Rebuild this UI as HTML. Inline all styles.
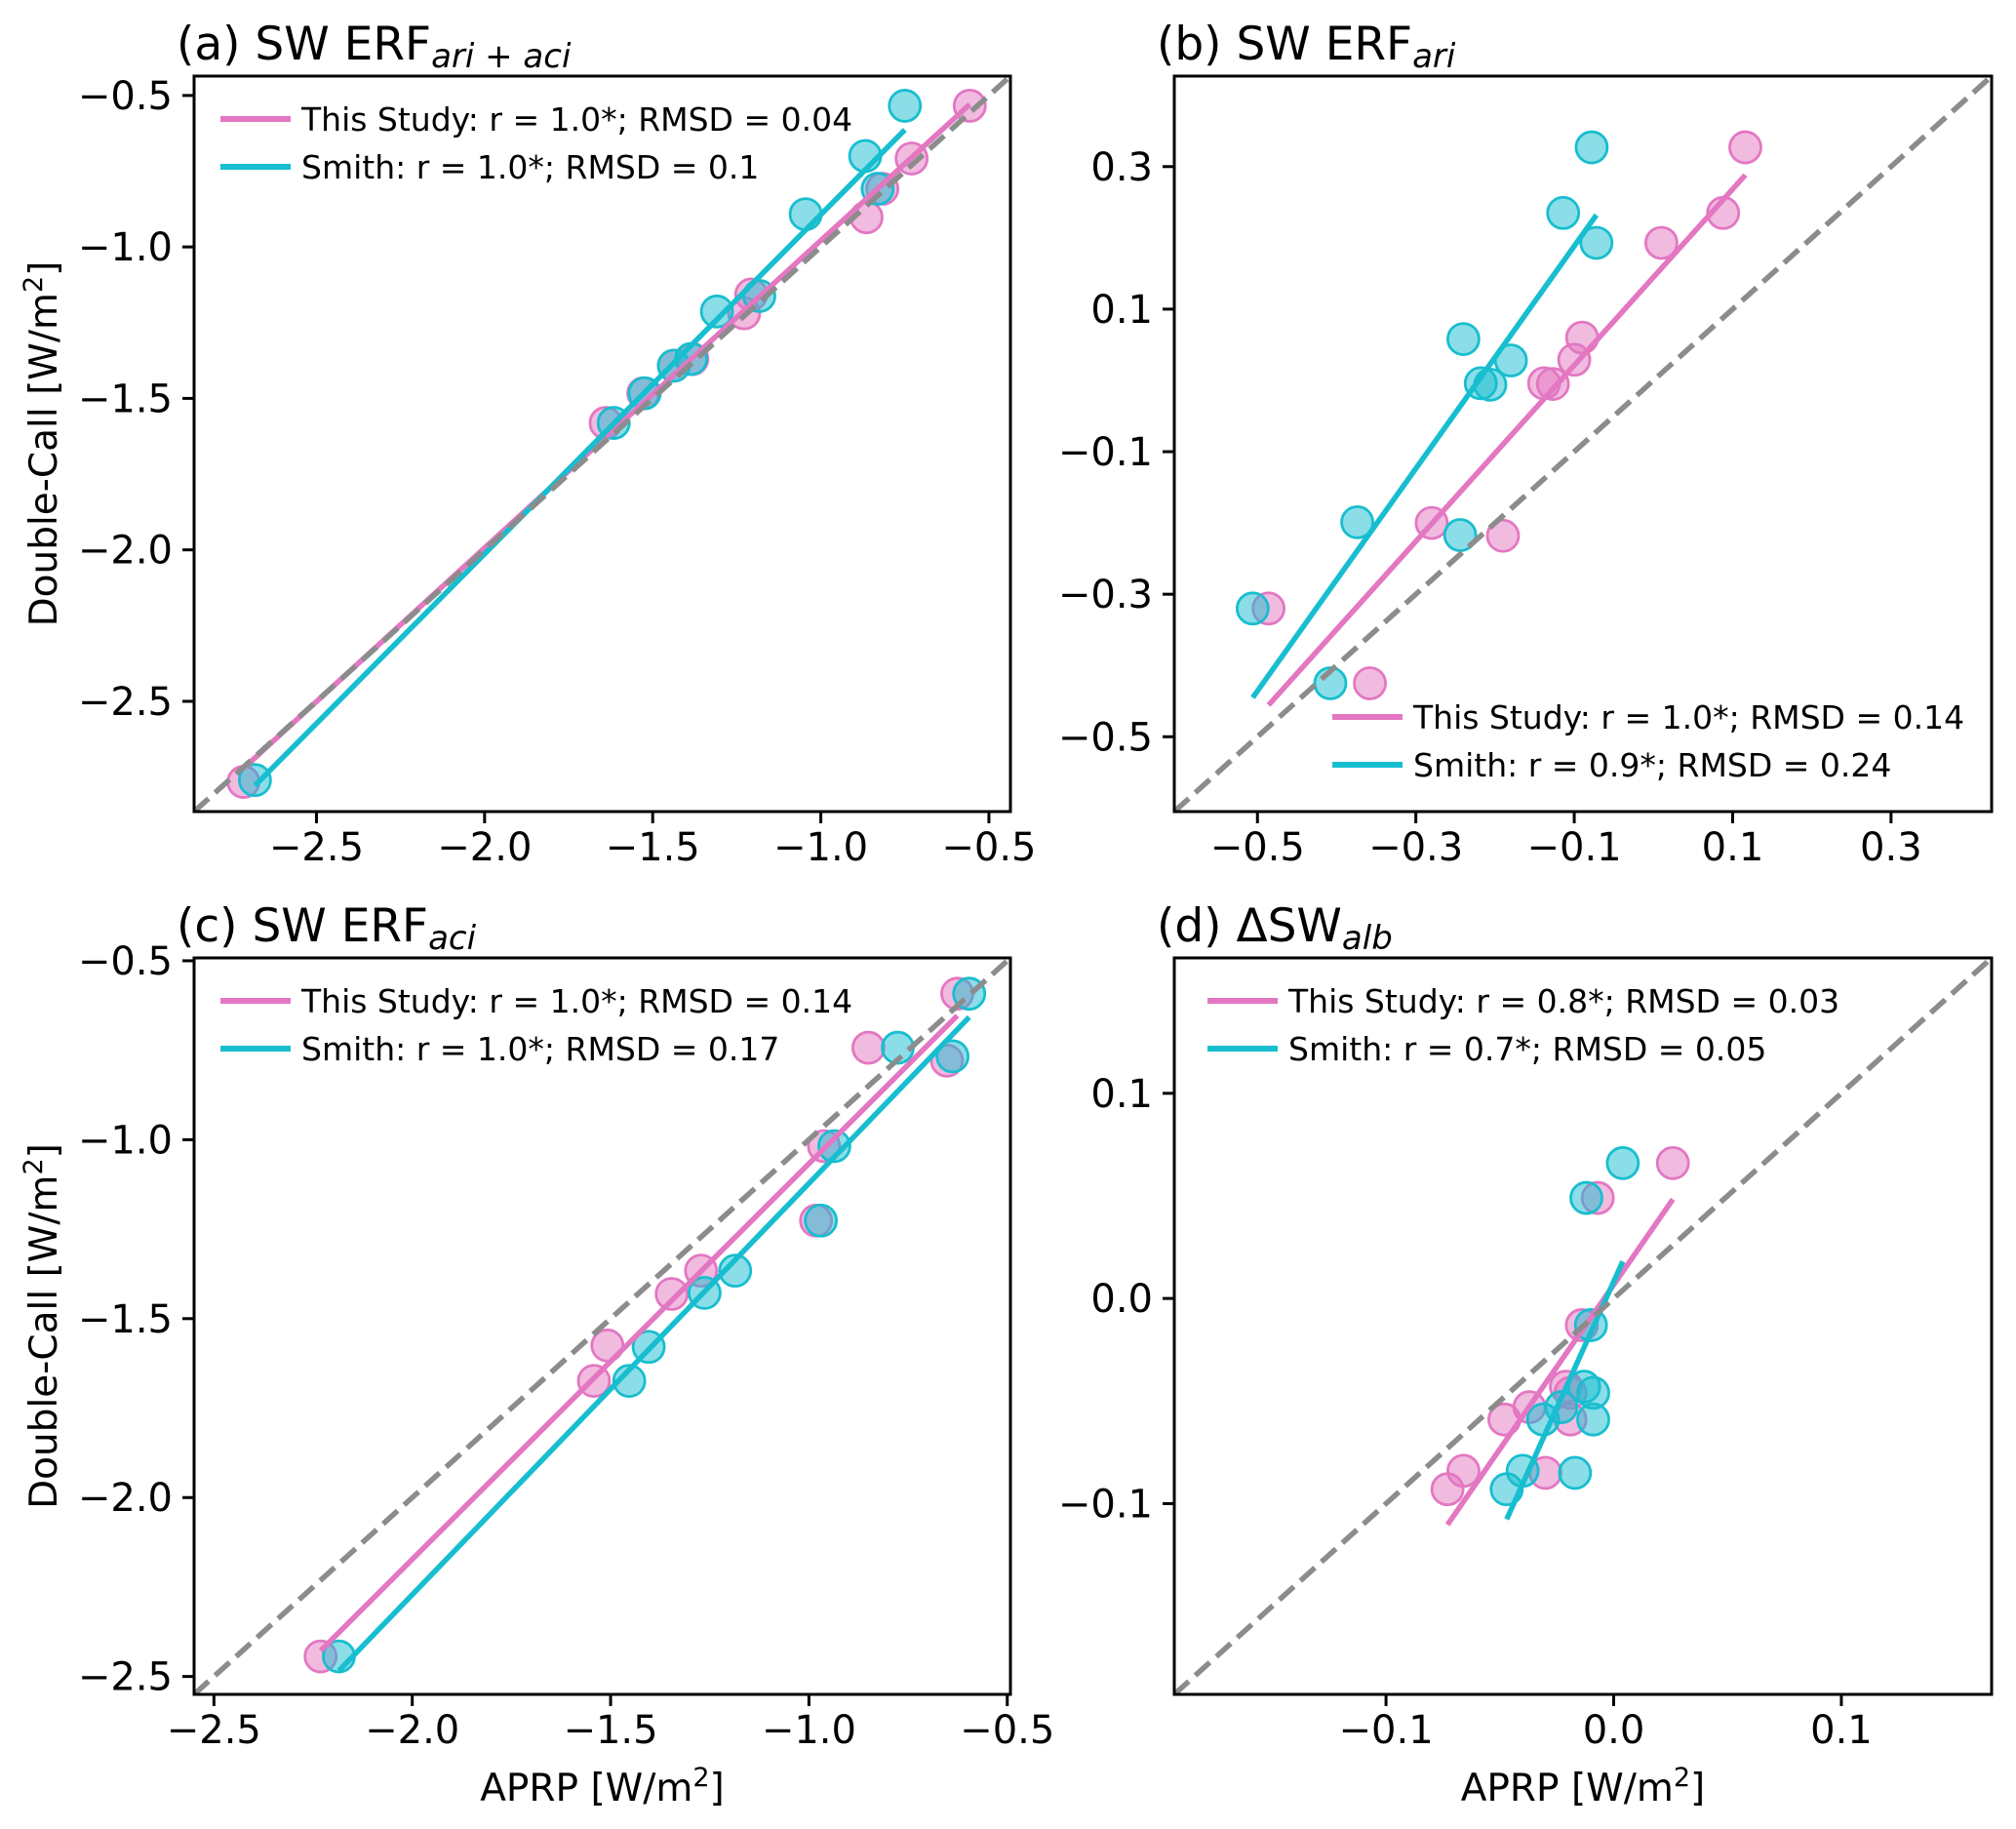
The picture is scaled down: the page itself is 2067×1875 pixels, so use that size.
<!DOCTYPE html>
<html><head><meta charset="utf-8"><style>
html,body{margin:0;padding:0;background:#fff}
svg{display:block;font-family:"DejaVu Sans","Liberation Sans",sans-serif}
</style></head><body>
<svg id="fig" width="2067" height="1875" viewBox="0 0 2067 1875" xmlns="http://www.w3.org/2000/svg"></svg>
<script>
// ---- Panel (a) SW ERF ari+aci
const aStudyX = [-0.557,-0.730,-0.817,-0.864,-1.207,-1.228,-1.382,-1.437,-1.528,-1.640,-2.717];
const aStudyY = [-0.534,-0.708,-0.808,-0.902,-1.157,-1.219,-1.370,-1.392,-1.483,-1.581,-2.766];
const aSmithX = [-0.750,-0.868,-0.831,-1.045,-1.309,-1.183,-1.386,-1.437,-1.524,-1.616,-2.683];
const aSmithY = [-0.534,-0.700,-0.808,-0.892,-1.213,-1.162,-1.370,-1.392,-1.483,-1.581,-2.760];
const aTicks = [-2.5,-2.0,-1.5,-1.0,-0.5];
const aTickLabels = ["−2.5","−2.0","−1.5","−1.0","−0.5"];
const aLegend = ["This Study: r = 1.0*; RMSD = 0.04","Smith: r = 1.0*; RMSD = 0.1"];
// ---- Panel (b) SW ERF ari
const bStudyX = [0.116,0.088,0.010,-0.090,-0.100,-0.138,-0.127,-0.280,-0.190,-0.486,-0.358];
const bStudyY = [0.327,0.235,0.193,0.060,0.029,-0.004,-0.005,-0.200,-0.218,-0.320,-0.425];
const bSmithX = [-0.078,-0.114,-0.072,-0.240,-0.180,-0.218,-0.206,-0.374,-0.244,-0.506,-0.408];
const bSmithY = [0.327,0.235,0.193,0.058,0.028,-0.004,-0.006,-0.199,-0.217,-0.320,-0.425];
const bTicks = [-0.5,-0.3,-0.1,0.1,0.3];
const bTickLabels = ["−0.5","−0.3","−0.1","0.1","0.3"];
const bLegend = ["This Study: r = 1.0*; RMSD = 0.14","Smith: r = 0.9*; RMSD = 0.24"];
// ---- Panel (c) SW ERF aci
const cStudyX = [-0.626,-0.850,-0.652,-0.962,-0.982,-1.272,-1.346,-1.508,-1.542,-2.231];
const cStudyY = [-0.592,-0.743,-0.779,-1.018,-1.226,-1.366,-1.431,-1.575,-1.674,-2.444];
const cSmithX = [-0.596,-0.776,-0.638,-0.936,-0.970,-1.186,-1.263,-1.404,-1.453,-2.185];
const cSmithY = [-0.592,-0.743,-0.767,-1.018,-1.226,-1.366,-1.428,-1.579,-1.674,-2.444];
const cTicks = [-2.5,-2.0,-1.5,-1.0,-0.5];
const cTickLabels = ["−2.5","−2.0","−1.5","−1.0","−0.5"];
const cLegend = ["This Study: r = 1.0*; RMSD = 0.14","Smith: r = 1.0*; RMSD = 0.17"];
// ---- Panel (d) dSW alb
const dStudyX = [0.026,-0.007,-0.014,-0.021,-0.019,-0.037,-0.048,-0.019,-0.030,-0.066,-0.073];
const dStudyY = [0.066,0.049,-0.013,-0.043,-0.046,-0.053,-0.059,-0.059,-0.085,-0.084,-0.093];
const dSmithX = [0.004,-0.012,-0.010,-0.013,-0.009,-0.023,-0.031,-0.009,-0.017,-0.040,-0.047];
const dSmithY = [0.066,0.049,-0.013,-0.043,-0.046,-0.053,-0.059,-0.059,-0.085,-0.084,-0.093];
const dTicks = [-0.1,0.0,0.1];
const dTickLabels = ["−0.1","0.0","0.1"];
const dLegend = ["This Study: r = 0.8*; RMSD = 0.03","Smith: r = 0.7*; RMSD = 0.05"];

const NS = "http://www.w3.org/2000/svg";
const svg = document.getElementById('fig');
const PINK = "#e377c2", CYAN = "#17becf";
function mk(tag, attrs, parent) {
  const e = document.createElementNS(NS, tag);
  for (const k in attrs) e.setAttribute(k, attrs[k]);
  (parent || svg).appendChild(e);
  return e;
}
function fit(xs, ys) {
  const n = xs.length; let mx = 0, my = 0;
  for (let i = 0; i < n; i++) { mx += xs[i]; my += ys[i]; }
  mx /= n; my /= n;
  let sxy = 0, sxx = 0;
  for (let i = 0; i < n; i++) { sxy += (xs[i]-mx)*(ys[i]-my); sxx += (xs[i]-mx)*(xs[i]-mx); }
  const b = sxy / sxx; return [b, my - b*mx];
}

const panels = [
  {key:'a', box:[199,78,1036,832], lim:[-2.864,-0.436], sx:aStudyX, sy:aStudyY, mx:aSmithX, my:aSmithY, ticks:aTicks, labels:aTickLabels, legend:aLegend, legX:226, legY:122, title:['(a) SW ERF','ari + aci'], ylabel:true, xlabel:false},
  {key:'b', box:[1204,78,2042,832], lim:[-0.605,0.427], sx:bStudyX, sy:bStudyY, mx:bSmithX, my:bSmithY, ticks:bTicks, labels:bTickLabels, legend:bLegend, legX:1366, legY:735, title:['(b) SW ERF','ari'], ylabel:false, xlabel:false},
  {key:'c', box:[199,982,1036,1737], lim:[-2.55,-0.492], sx:cStudyX, sy:cStudyY, mx:cSmithX, my:cSmithY, ticks:cTicks, labels:cTickLabels, legend:cLegend, legX:226, legY:1026, title:['(c) SW ERF','aci'], ylabel:true, xlabel:true},
  {key:'d', box:[1204,982,2042,1737], lim:[-0.193,0.166], sx:dStudyX, sy:dStudyY, mx:dSmithX, my:dSmithY, ticks:dTicks, labels:dTickLabels, legend:dLegend, legX:1238, legY:1026, title:['(d) ΔSW','alb'], ylabel:false, xlabel:true}
];

panels.forEach(p => {
  const [L,T,R,B] = p.box, [lo,hi] = p.lim;
  const X = v => L + (v-lo)/(hi-lo)*(R-L);
  const Y = v => B - (v-lo)/(hi-lo)*(B-T);
  const g = mk('g', {});
  
  
  const cid = 'clip' + p.key;
  const cp = mk('clipPath', {id: cid}, g);
  mk('rect', {x:L, y:T, width:R-L, height:B-T}, cp);
  const plot = mk('g', {'clip-path': 'url(#'+cid+')'}, g);
  [[p.sx,p.sy,PINK,'study'],[p.mx,p.my,CYAN,'smith']].forEach(([xs,ys,col,nm]) => {
    xs.forEach((x,i) => {
      const c = mk('circle', {cx:X(x), cy:Y(ys[i]), r:16, fill:col, 'fill-opacity':0.5, stroke:col, 'stroke-width':2.8}, plot);
      
      
    });
  });
  [[p.sx,p.sy,PINK,'study'],[p.mx,p.my,CYAN,'smith']].forEach(([xs,ys,col,nm]) => {
    const [b,a] = fit(xs,ys);
    const x0 = Math.min(...xs), x1 = Math.max(...xs);
    const ln = mk('line', {x1:X(x0), y1:Y(a+b*x0), x2:X(x1), y2:Y(a+b*x1), stroke:col, 'stroke-width':5.5}, plot);
    
    
  });
  const dl = mk('line', {x1:X(lo), y1:Y(lo), x2:X(hi), y2:Y(hi), stroke:'#8c8c8c', 'stroke-width':5.5, 'stroke-dasharray':'20 9'}, plot);
  
  
  const fr = mk('rect', {x:L, y:T, width:R-L, height:B-T, fill:'none', stroke:'#000', 'stroke-width':3}, g);
  
  
  p.ticks.forEach((t,i) => {
    mk('line', {x1:X(t), y1:B, x2:X(t), y2:B+12, stroke:'#000', 'stroke-width':3}, g);
    const xt = mk('text', {x:X(t), y:B+50, 'font-size':40, 'text-anchor':'middle'}, g);
    xt.textContent = p.labels[i];
    
    
    mk('line', {x1:L-12, y1:Y(t), x2:L, y2:Y(t), stroke:'#000', 'stroke-width':3}, g);
    const yt = mk('text', {x:L-22, y:Y(t)+14, 'font-size':40, 'text-anchor':'end'}, g);
    yt.textContent = p.labels[i];
    
    
  });
  [[PINK,0],[CYAN,1]].forEach(([col,i]) => {
    const ly = p.legY + i*49;
    const h = mk('line', {x1:p.legX, y1:ly, x2:p.legX+72, y2:ly, stroke:col, 'stroke-width':6}, g);
    
    
    const tx = mk('text', {x:p.legX+83, y:ly+12, 'font-size':33}, g);
    tx.textContent = p.legend[i];
    
    
  });
  const tt = mk('text', {x:L-18, y:T-17, 'font-size':47}, g);
  
  
  const t1 = mk('tspan', {}, tt); t1.textContent = p.title[0];
  const t2 = mk('tspan', {'font-size':34, 'font-style':'italic', dy:8}, tt); t2.textContent = p.title[1];
  if (p.ylabel) {
    const cy = (T+B)/2;
    const yl = mk('text', {x:0, y:0, 'font-size':39, 'text-anchor':'middle', transform:'translate(58,'+cy+') rotate(-90)'}, g);
    
    
    const s1 = mk('tspan', {}, yl); s1.textContent = 'Double-Call [W/m';
    const s2 = mk('tspan', {'font-size':27, dy:-15}, yl); s2.textContent = '2';
    const s3 = mk('tspan', {dy:15}, yl); s3.textContent = ']';
  }
  if (p.xlabel) {
    const xl = mk('text', {x:(L+R)/2, y:1846, 'font-size':39, 'text-anchor':'middle'}, g);
    
    
    const s1 = mk('tspan', {}, xl); s1.textContent = 'APRP [W/m';
    const s2 = mk('tspan', {'font-size':27, dy:-15}, xl); s2.textContent = '2';
    const s3 = mk('tspan', {dy:15}, xl); s3.textContent = ']';
  }
});
</script>
</body></html>
